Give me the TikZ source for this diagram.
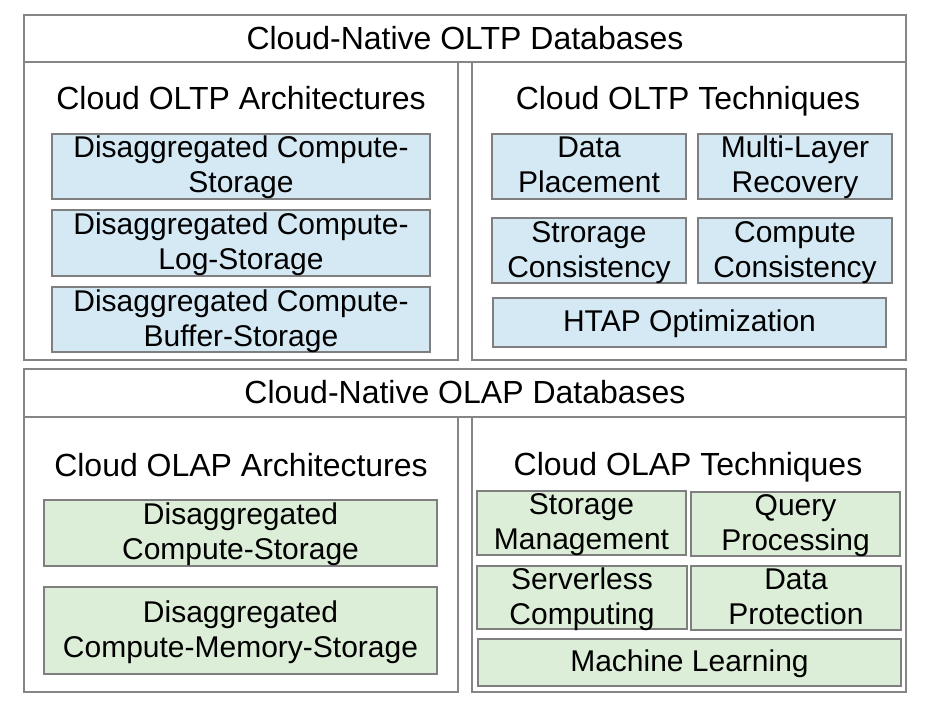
\documentclass[tikz,border=0pt]{standalone}
\usepackage{fontspec}
\setmainfont{Liberation Sans}
\definecolor{frame}{HTML}{858585}
\definecolor{bluefill}{HTML}{D5E9F5}
\definecolor{greenfill}{HTML}{DDEED8}
\definecolor{boxline}{HTML}{7F7F7F}
\tikzset{
  panel/.style={draw=frame, line width=2pt, fill=white, inner sep=0pt},
  ttl/.style={inner sep=0pt, anchor=base, font=\fontsize{32}{37}\selectfont},
  item/.style={draw=boxline, line width=2pt, inner sep=0pt, align=center,
    font=\fontsize{30}{35}\selectfont, text height=53pt, text depth=0pt},
  oneline/.style={text height=18pt, text depth=0pt},
  bitem/.style={item, fill=bluefill},
  gitem/.style={item, fill=greenfill},
}
\begin{document}
\begin{tikzpicture}[x=1pt, y=-1pt]
\useasboundingbox (0,0) rectangle (925,708);
% OLTP
\node[panel, minimum width=882pt, minimum height=47pt] (h1) at (465,38.5) {};
\node[ttl] (h1t) at (465,50) {Cloud-Native OLTP Databases};
\node[panel, minimum width=434pt, minimum height=298pt] (p1) at (241,211) {};
\node[panel, minimum width=434pt, minimum height=298pt] (p2) at (689,211) {};
\node[ttl] (t1) at (241,110) {Cloud OLTP Architectures};
\node[ttl] (t2) at (688,110) {Cloud OLTP Techniques};
\node[bitem, minimum width=378pt, minimum height=65pt] (a1) at (241,166.5) {Disaggregated Compute-\\Storage};
\node[bitem, minimum width=378pt, minimum height=66pt] (a2) at (241,243) {Disaggregated Compute-\\Log-Storage};
\node[bitem, minimum width=378pt, minimum height=65pt] (a3) at (241,319.5) {Disaggregated Compute-\\Buffer-Storage};
\node[bitem, minimum width=194pt, minimum height=65pt] (b1) at (589,166.5) {Data\\Placement};
\node[bitem, minimum width=194pt, minimum height=65pt] (b2) at (795,166.5) {Multi-Layer\\Recovery};
\node[bitem, minimum width=194pt, minimum height=65pt] (b3) at (589,250.5) {Strorage\\Consistency};
\node[bitem, minimum width=194pt, minimum height=65pt] (b4) at (795,250.5) {Compute\\Consistency};
\node[bitem, oneline, minimum width=393pt, minimum height=49pt] (b5) at (689.5,322.5) {HTAP Optimization};
% OLAP
\node[panel, minimum width=882pt, minimum height=48pt] (h2) at (465,393) {};
\node[ttl] (h2t) at (465,403) {Cloud-Native OLAP Databases};
\node[panel, minimum width=434pt, minimum height=275pt] (p3) at (241,554.5) {};
\node[panel, minimum width=434pt, minimum height=275pt] (p4) at (689,554.5) {};
\node[ttl] (t3) at (241,476) {Cloud OLAP Architectures};
\node[ttl] (t4) at (688,475) {Cloud OLAP Techniques};
\node[gitem, minimum width=393pt, minimum height=66pt] (c1) at (240.5,533) {Disaggregated\\Compute-Storage};
\node[gitem, minimum width=393pt, minimum height=87pt] (c2) at (240.5,630.5) {Disaggregated\\Compute-Memory-Storage};
\node[gitem, minimum width=209pt, minimum height=64pt] (d1) at (581.5,523) {Storage\\Management};
\node[gitem, minimum width=209pt, minimum height=64pt] (d2) at (795.5,524) {Query\\Processing};
\node[gitem, minimum width=210pt, minimum height=63pt] (d3) at (582,597.5) {Serverless\\Computing};
\node[gitem, minimum width=210pt, minimum height=64pt] (d4) at (796,598) {Data\\Protection};
\node[gitem, oneline, minimum width=423pt, minimum height=47pt] (d5) at (689.5,662.5) {Machine Learning};
\end{tikzpicture}
\end{document}
